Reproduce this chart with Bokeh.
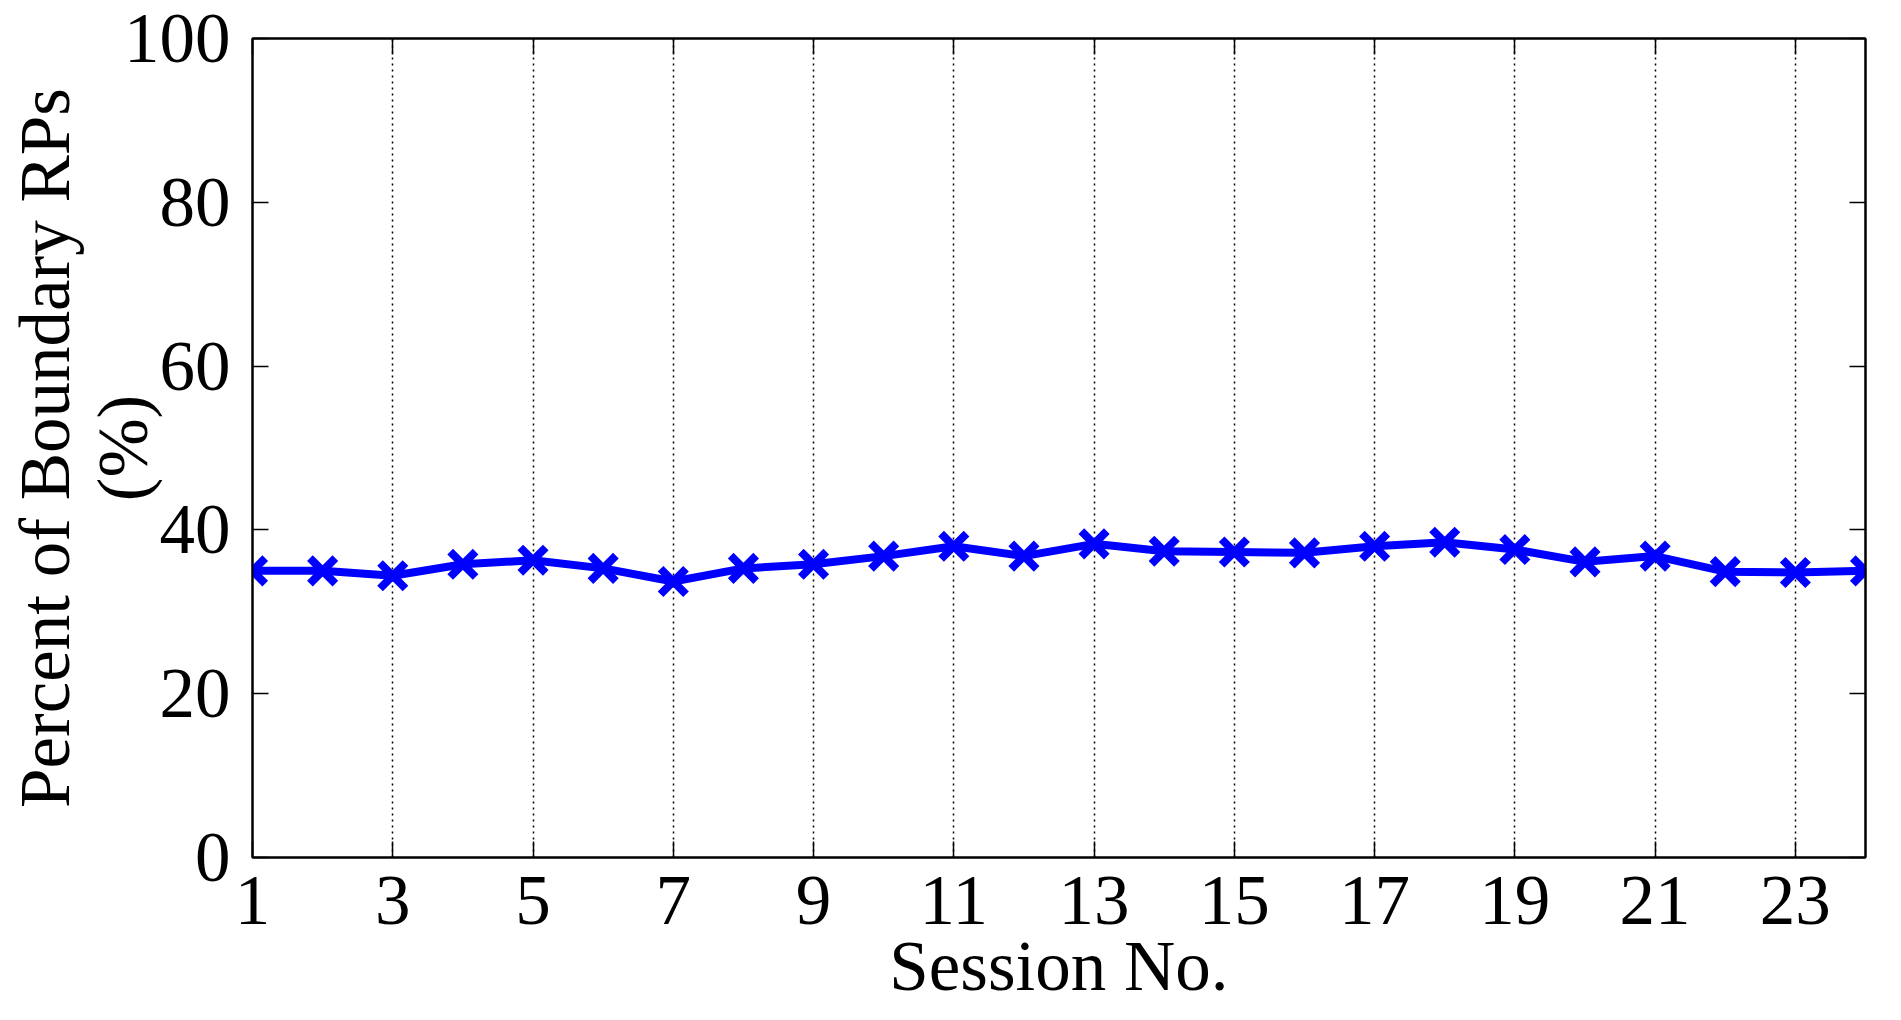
from bokeh.plotting import figure
from bokeh.models import FixedTicker, LinearAxis, Range1d, CustomJSTickFormatter
from bokeh.embed import file_html
from bokeh.resources import INLINE

# values
sessions = list(range(1, 25))
boundary_pct = [35.0, 35.0, 34.4, 35.8, 36.3, 35.3, 33.7, 35.3, 35.8, 36.8, 38.0, 36.8,
                38.3, 37.4, 37.3, 37.2, 38.0, 38.5, 37.6, 36.1, 36.8, 34.9, 34.8, 35.0]
x_ticks = [1, 3, 5, 7, 9, 11, 13, 15, 17, 19, 21, 23]
y_ticks = [0, 20, 40, 60, 80, 100]

FONT = "Liberation Serif"
SIZE = "71px"

p = figure(width=1885, height=1012, output_backend="svg", toolbar_location=None,
           x_range=Range1d(1, 24), y_range=Range1d(0, 100),
           min_border_left=252, min_border_right=20, min_border_top=38, min_border_bottom=155)

p.line(sessions, boundary_pct, line_color="#0000ff", line_width=8)
p.scatter(sessions, boundary_pct, marker="x", size=36, line_color="#0000ff", line_width=8)

p.outline_line_color = "black"
p.outline_line_width = 2
p.background_fill_color = "white"
p.border_fill_color = "white"

for ax in (p.xaxis[0], p.yaxis[0]):
    ax.major_tick_in = 16
    ax.major_tick_out = 0
    ax.minor_tick_line_color = None
    ax.axis_line_width = 2
    ax.major_tick_line_width = 1.5
    ax.major_label_text_font = FONT
    ax.major_label_text_font_size = SIZE
    ax.major_label_text_color = "black"
    ax.axis_label_text_font = FONT
    ax.axis_label_text_font_size = SIZE
    ax.axis_label_text_font_style = "normal"
    ax.axis_label_text_color = "black"

p.xaxis.ticker = FixedTicker(ticks=x_ticks)
p.yaxis.ticker = FixedTicker(ticks=y_ticks)
p.xaxis.axis_label = "Session No."
p.yaxis.axis_label = "Percent of Boundary RPs\n(%)"
p.yaxis.axis_label_text_line_height = 1.0
p.xaxis.major_label_standoff = 19
p.yaxis.major_label_standoff = 22
p.xaxis.axis_label_standoff = 0
p.yaxis.axis_label_standoff = -41

# box ticks on top and right, without labels
blank = CustomJSTickFormatter(code="return ''")
top = LinearAxis(ticker=FixedTicker(ticks=x_ticks), formatter=blank)
right = LinearAxis(ticker=FixedTicker(ticks=y_ticks), formatter=blank)
for ax in (top, right):
    ax.major_tick_in = 16
    ax.major_tick_out = 0
    ax.minor_tick_line_color = None
    ax.axis_line_width = 2
    ax.major_tick_line_width = 1.5
    ax.major_label_standoff = 0
p.add_layout(top, "above")
p.add_layout(right, "right")

p.xgrid.ticker = FixedTicker(ticks=x_ticks)
p.xgrid.grid_line_color = "black"
p.xgrid.grid_line_width = 1.5
p.xgrid.grid_line_dash = "2 4"
p.ygrid.grid_line_color = None

open("out.html", "w").write(file_html(p, INLINE))
